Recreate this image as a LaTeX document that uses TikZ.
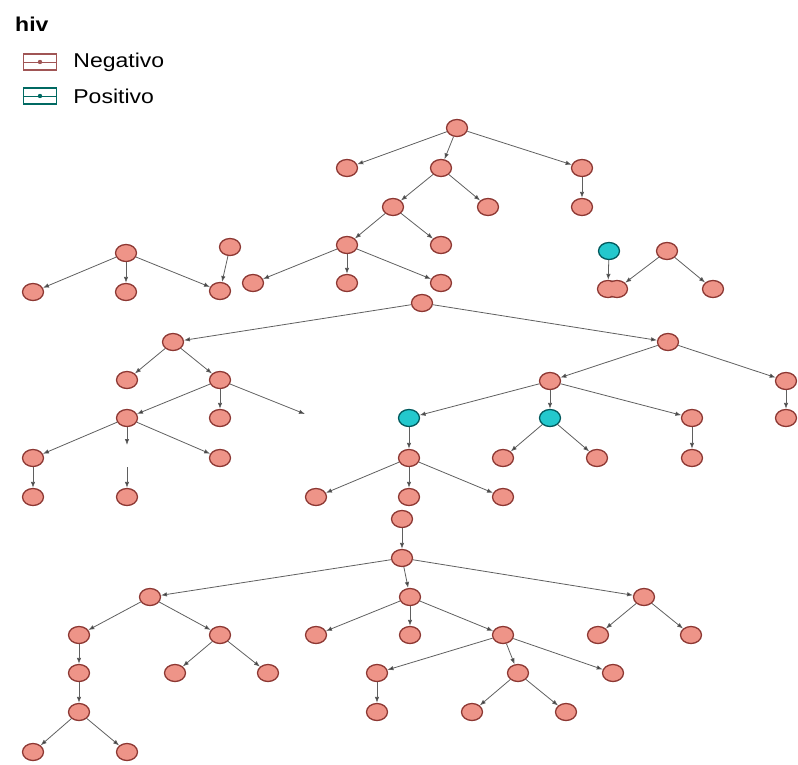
\documentclass[tikz,border=0pt]{standalone}
\usepackage{fontspec}
\setmainfont{Liberation Sans}[FakeStretch=1.15]
\usetikzlibrary{shapes.geometric,positioning,arrows.meta}
\definecolor{negfill}{RGB}{238,148,136}
\definecolor{negline}{RGB}{140,55,50}
\definecolor{posfill}{RGB}{35,200,205}
\definecolor{posline}{RGB}{0,88,92}
\definecolor{edgegray}{RGB}{95,95,95}
\definecolor{legneg}{RGB}{160,85,85}
\definecolor{legpos}{RGB}{0,105,98}
\tikzset{
  negnode/.style={ellipse,draw=negline,fill=negfill,line width=1.3pt,
    minimum width=21pt,minimum height=17pt,inner sep=0pt},
  posnode/.style={negnode,draw=posline,fill=posfill},
  edge/.style={draw=edgegray,line width=0.8pt,
    -{Latex[length=6pt,width=4.5pt,fill=black!80]}},
  legbox/.style={rectangle,draw,line width=1.4pt,minimum width=33pt,
    minimum height=16pt,inner sep=0pt},
  legtext/.style={font=\fontsize{20}{24}\selectfont,inner sep=0pt}
}
\begin{document}
\begin{tikzpicture}[x=1pt,y=-1pt]
  \useasboundingbox (0,0) rectangle (798,765);
  % legend
  \node[anchor=base west,font=\bfseries\fontsize{20}{24}\selectfont,inner sep=0pt] (title) at (15,32) {hiv};
  \node[legbox,draw=legneg] (kneg) at (40,62) {};
  \node[legbox,draw=legpos] (kpos) at (40,96) {};
  \draw[legneg,line width=0.9pt] (kneg.west) -- (kneg.east);
  \draw[legpos,line width=0.9pt] (kpos.west) -- (kpos.east);
  \fill[legneg] (kneg) circle (2.2pt);
  \fill[legpos] (kpos) circle (2.2pt);
  \node[legtext,right=16pt of kneg] (tneg) {Negativo};
  \node[legtext,right=16pt of kpos] (tpos) {Positivo};
  % negative nodes
  \foreach \n/\x/\y in {t0/457/128, t1/347/168, t2/441/168, t3/582/168,
      t4/393/207, t5/488/207, t6/582/207, t7/347/245, t8/441/245,
      t9/253/283, t10/347/283, t11/441/283, k/422/303,
      l0/126/253, l1/33/292, l2/126/292, l3/220/291, m0/230/247,
      r0/667/251, s0/713/289, qa/608/289, qb/617/289,
      n1/173/342, n3/127/380, n4/220/380, n5/127/418, n6/220/418,
      n7/33/458, n8/220/458, n9/33/497, n10/127/497,
      n2/668/342, n11/550/381, n12/786/381, n15/692/418, n16/786/418,
      n17/692/458, n18/503/458, n19/597/458, n20/409/458,
      n21/316/497, n22/409/497, n23/503/497,
      o0/402/519, o1/402/558, o2/150/597, o3/410/597, o4/644/597,
      o5/79/635, o6/220/635, o13/316/635, o14/410/635, o15/503/635,
      o22/598/635, o23/691/635, o7/79/673, o11/175/673, o12/268/673,
      o16/377/673, o17/518/673, o18/613/673, o8/79/712, o19/377/712,
      o20/472/712, o21/566/712, o9/33/752, o10/127/752}
    \node[negnode] (\n) at (\x,\y) {};
  % merged pair
  \fill[negfill] (qa) ellipse [x radius=9.3pt,y radius=7.3pt];
  \fill[negfill] (qb) ellipse [x radius=9.3pt,y radius=7.3pt];
  % positive nodes
  \node[posnode] (p0) at (609,251) {};
  \node[posnode] (n13) at (409,418) {};
  \node[posnode] (n14) at (550,418) {};
  % loose ends
  \coordinate (e1) at (305,414);
  \coordinate (e2) at (127,445);
  \coordinate (e3) at (127,467);
  % edges
  \foreach \a/\b in {t0/t1, t0/t2, t0/t3, t2/t4, t2/t5, t3/t6, t4/t7, t4/t8,
      t7/t9, t7/t10, t7/t11, l0/l1, l0/l2, l0/l3, m0/l3,
      p0/qa, r0/qb, r0/s0, k/n1, k/n2, n1/n3, n1/n4, n4/n5, n4/n6, n4/e1,
      n5/n7, n5/n8, n5/e2, e3/n10, n7/n9,
      n2/n11, n2/n12, n11/n13, n11/n14, n11/n15, n12/n16, n15/n17,
      n14/n18, n14/n19, n13/n20, n20/n21, n20/n22, n20/n23,
      o0/o1, o1/o2, o1/o3, o1/o4, o2/o5, o2/o6, o5/o7, o7/o8, o8/o9, o8/o10,
      o6/o11, o6/o12, o3/o13, o3/o14, o3/o15, o15/o16, o15/o17, o15/o18,
      o16/o19, o17/o20, o17/o21, o4/o22, o4/o23}
    \draw[edge] (\a) -- (\b);
\end{tikzpicture}
\end{document}
